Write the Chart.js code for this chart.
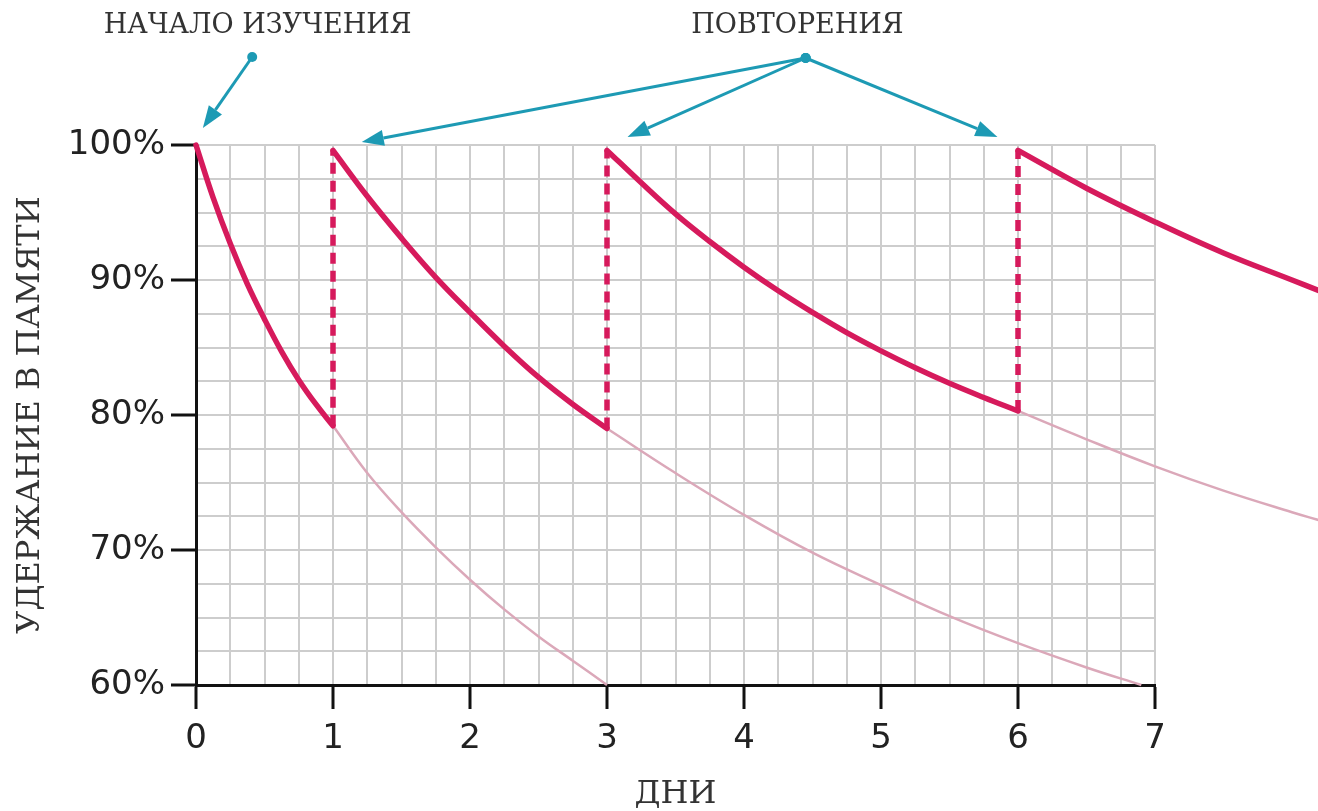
<!DOCTYPE html>
<html>
<head>
<meta charset="utf-8">
<script src="https://cdn.jsdelivr.net/npm/chart.js@4.4.1/dist/chart.umd.min.js"></script>
<style>
  html, body { margin: 0; padding: 0; background: #ffffff; }
  #wrap { width: 1318px; height: 811px; position: relative; }
</style>
</head>
<body>
<div id="wrap"><canvas id="c"></canvas></div>
<script>
// ---------- data ----------
const dayTicks = [0, 1, 2, 3, 4, 5, 6, 7];
const retentionTicks = [60, 70, 80, 90, 100];
const repeatDays = [1, 3, 6];

// bold retention curves (after each study session)
const study1Days = [0, 0.125, 0.25, 0.375, 0.5, 0.625, 0.75, 0.875, 1];
const study1Vals = [100, 96.1, 92.7, 89.7, 87.1, 84.7, 82.6, 80.8, 79.2];
const study2Days = [1, 1.25, 1.5, 1.75, 2, 2.25, 2.5, 2.75, 3];
const study2Vals = [99.6, 96.2, 93.1, 90.2, 87.6, 85.1, 82.8, 80.8, 79.0];
const study3Days = [3, 3.25, 3.5, 3.75, 4, 4.25, 4.5, 4.75, 5, 5.25, 5.5, 5.75, 6];
const study3Vals = [99.6, 97.2, 94.9, 92.85, 90.95, 89.2, 87.6, 86.1, 84.75, 83.5, 82.35, 81.3, 80.3];
const study4Days = [6, 6.5, 7, 7.5, 8, 8.2];
const study4Vals = [99.6, 96.8, 94.3, 92.0, 90.0, 89.2];

// faint curves (forgetting without repetition)
const fade1Days = [1, 1.25, 1.5, 1.75, 2, 2.25, 2.5, 2.75, 3];
const fade1Vals = [79.2, 75.7, 72.8, 70.2, 67.8, 65.6, 63.6, 61.8, 60.0];
const fade2Days = [3, 3.5, 4, 4.5, 5, 5.5, 6, 6.5, 6.9];
const fade2Vals = [79.0, 75.7, 72.6, 69.8, 67.4, 65.1, 63.1, 61.3, 60.0];
const fade3Days = [6, 6.5, 7, 7.5, 8, 8.2];
const fade3Vals = [80.3, 78.2, 76.2, 74.4, 72.8, 72.2];

// repetition jumps (dashed)
const jumpLow = [79.2, 79.0, 80.3];
const jumpHigh = [99.6, 99.6, 99.6];

// texts
const xTitle = 'ДНИ';
const yTitle = 'УДЕРЖАНИЕ В ПАМЯТИ';
const startLabel = 'НАЧАЛО ИЗУЧЕНИЯ';
const repeatLabel = 'ПОВТОРЕНИЯ';

// ---------- helpers ----------
const pts = (xs, ys) => xs.map((x, i) => ({ x: x, y: ys[i] }));
const BOLD = '#d61a5c';
const FAINT = '#dba8b9';
const TEAL = '#1d9ab4';

const datasets = [];
[[study1Days, study1Vals], [study2Days, study2Vals], [study3Days, study3Vals], [study4Days, study4Vals]].forEach(([d, v]) => {
  datasets.push({ data: pts(d, v), borderColor: BOLD, borderWidth: 5.5, pointRadius: 0,
    tension: 0.4, clip: false, order: 1, borderCapStyle: 'round' });
});
repeatDays.forEach((d, i) => {
  datasets.push({ data: [{ x: d, y: jumpLow[i] }, { x: d, y: jumpHigh[i] }], borderColor: BOLD,
    borderWidth: 5.5, borderDash: [11, 7], pointRadius: 0, clip: false, order: 2 });
});
[[fade1Days, fade1Vals], [fade2Days, fade2Vals], [fade3Days, fade3Vals]].forEach(([d, v]) => {
  datasets.push({ data: pts(d, v), borderColor: FAINT, borderWidth: 2.5, pointRadius: 0,
    tension: 0.4, clip: false, order: 3 });
});

// ---------- annotations plugin ----------
const annotations = {
  labels: [
    { text: startLabel, day: 0.45, dy: -119 },
    { text: repeatLabel, day: 4.39, dy: -119 }
  ],
  arrows: [
    { from: [0.41, -88], to: [0.05, -17] },
    { from: [4.45, -87], to: [1.21, -3] },
    { from: [4.45, -87], to: [3.15, -8] },
    { from: [4.45, -87], to: [5.85, -8] }
  ]
};

const annotationPlugin = {
  id: 'annotationPlugin',
  afterDraw(chart) {
    const { ctx, chartArea, scales } = chart;
    const top = chartArea.top;
    ctx.save();
    ctx.fillStyle = '#333';
    ctx.font = '27px "DejaVu Serif"';
    ctx.textAlign = 'center';
    ctx.textBaseline = 'middle';
    annotations.labels.forEach(l => {
      ctx.fillText(l.text, scales.x.getPixelForValue(l.day), top + l.dy);
    });
    ctx.strokeStyle = TEAL;
    ctx.fillStyle = TEAL;
    ctx.lineWidth = 3;
    annotations.arrows.forEach(a => {
      const x1 = scales.x.getPixelForValue(a.from[0]), y1 = top + a.from[1];
      const x2 = scales.x.getPixelForValue(a.to[0]), y2 = top + a.to[1];
      const ang = Math.atan2(y2 - y1, x2 - x1);
      const hl = 22, hw = 8;
      const bx = x2 - hl * Math.cos(ang), by = y2 - hl * Math.sin(ang);
      ctx.beginPath();
      ctx.moveTo(x1, y1);
      ctx.lineTo(bx, by);
      ctx.stroke();
      ctx.beginPath();
      ctx.moveTo(x2, y2);
      ctx.lineTo(bx + hw * Math.sin(ang), by - hw * Math.cos(ang));
      ctx.lineTo(bx - hw * Math.sin(ang), by + hw * Math.cos(ang));
      ctx.closePath();
      ctx.fill();
      ctx.beginPath();
      ctx.arc(x1, y1, 5, 0, Math.PI * 2);
      ctx.fill();
    });
    ctx.restore();
  }
};

// ---------- chart ----------
const isInt = v => Math.abs(v - Math.round(v)) < 1e-6;
const GRID = '#cdcdcd';

new Chart(document.getElementById('c'), {
  type: 'line',
  data: { datasets },
  plugins: [annotationPlugin],
  options: {
    responsive: true,
    maintainAspectRatio: false,
    animation: false,
    events: [],
    layout: { padding: { top: 145, right: 163, left: 0, bottom: 0 } },
    plugins: { legend: { display: false }, tooltip: { enabled: false }, title: { display: false } },
    scales: {
      x: {
        type: 'linear',
        // axis range set after data limits so curves may run past day 7 (clip: false)
        afterDataLimits(scale) { scale.min = dayTicks[0]; scale.max = dayTicks[dayTicks.length - 1]; },
        afterFit(scale) { scale.height = 126; },
        ticks: {
          stepSize: 0.25,
          autoSkip: false,
          maxRotation: 0,
          padding: 10,
          color: '#222',
          font: { family: '"DejaVu Sans"', size: 34 },
          callback: v => (isInt(v) && dayTicks.includes(Math.round(v))) ? String(Math.round(v)) : ''
        },
        grid: {
          color: GRID,
          lineWidth: 2,
          tickLength: 24,
          tickWidth: 3,
          tickColor: ctx => (ctx.tick && isInt(ctx.tick.value)) ? '#111' : 'rgba(0,0,0,0)'
        },
        border: { color: '#111', width: 3 },
        title: {
          display: true, text: xTitle, color: '#333',
          font: { family: '"DejaVu Serif"', size: 32 },
          padding: { top: 0, bottom: -3 }
        }
      },
      y: {
        type: 'linear',
        min: retentionTicks[0],
        max: retentionTicks[retentionTicks.length - 1],
        afterFit(scale) { scale.width = 196; },
        ticks: {
          stepSize: 2.5,
          autoSkip: false,
          padding: 6,
          color: '#222',
          font: { family: '"DejaVu Sans"', size: 34 },
          callback: v => retentionTicks.includes(Math.round(v * 100) / 100) ? v + '%' : ''
        },
        grid: {
          color: GRID,
          lineWidth: 2,
          tickLength: 25,
          tickWidth: 3,
          tickColor: ctx => (ctx.tick && retentionTicks.includes(ctx.tick.value)) ? '#111' : 'rgba(0,0,0,0)'
        },
        border: { color: '#111', width: 3 },
        title: {
          display: true, text: yTitle, color: '#333',
          font: { family: '"DejaVu Serif"', size: 32 },
          padding: { top: 11, bottom: 0 }
        }
      }
    }
  }
});
</script>
</body>
</html>
